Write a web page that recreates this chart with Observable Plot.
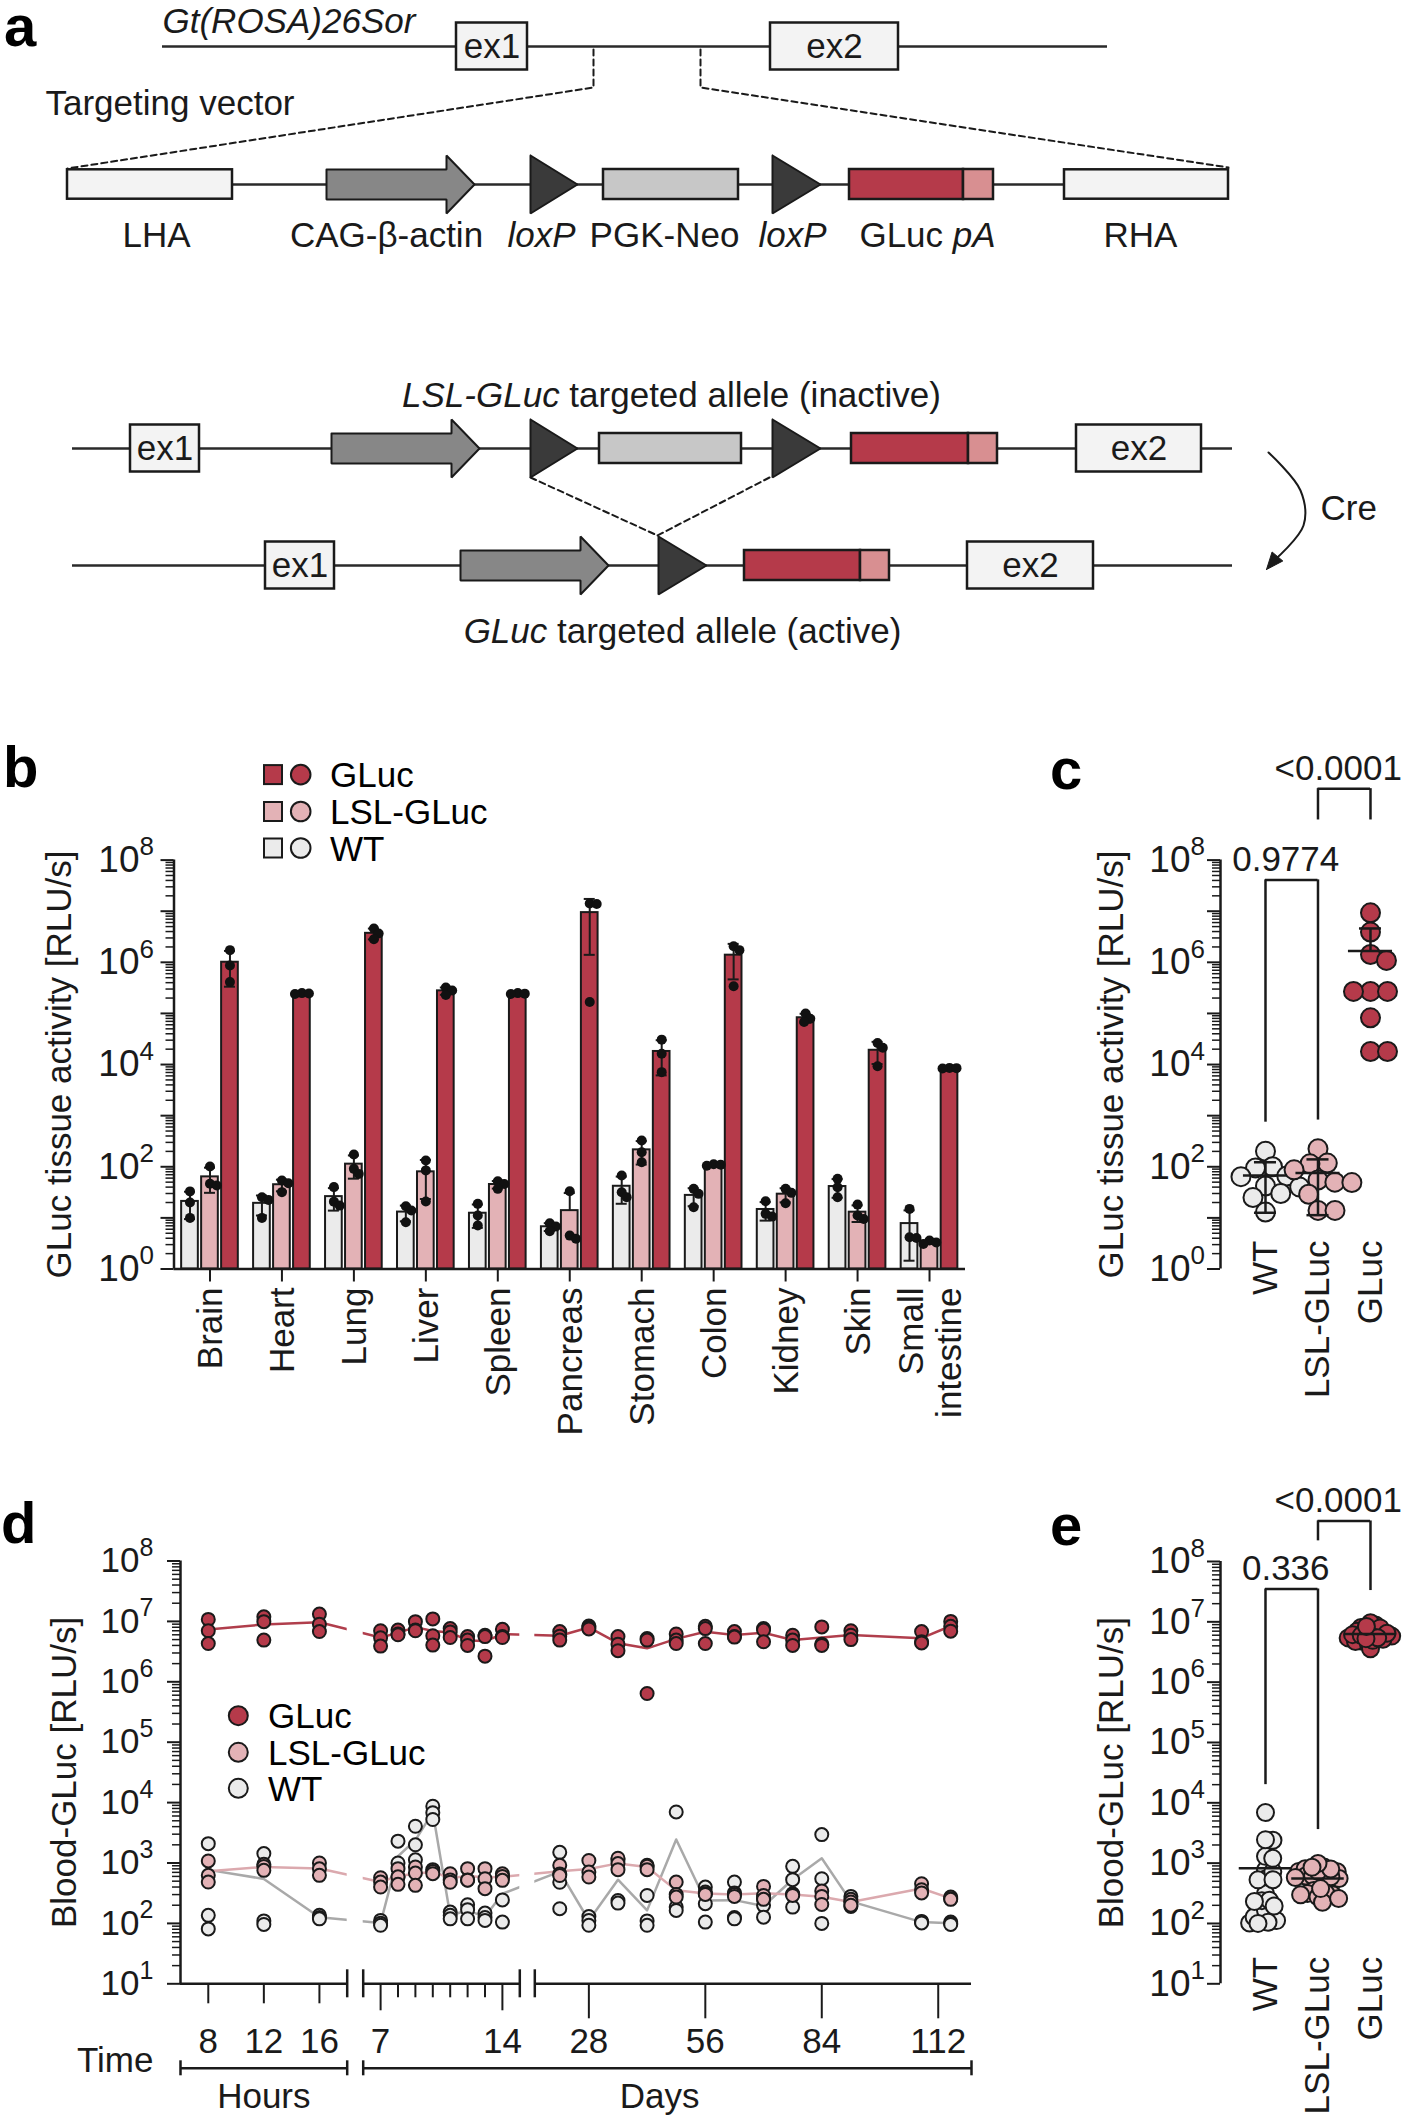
<!DOCTYPE html>
<html>
<head>
<meta charset="utf-8">
<script src="https://cdn.jsdelivr.net/npm/d3@7"></script>
<script src="https://cdn.jsdelivr.net/npm/@observablehq/plot@0.6"></script>
<style>
  html, body { margin: 0; padding: 0; background: #fff; }
  #fig { position: relative; width: 1408px; height: 2116px; overflow: hidden; background: #fff; }
  #fig > svg { position: absolute; }
</style>
</head>
<body>
<div id="fig"></div>
<script>
// ======================= DATA =======================
// Panel a : construct schematic (positions along each drawn row, figure px)
const schemRows = [
  {row: "locus",    y: 46,  x1: 162, x2: 1107},
  {row: "vector",   y: 184, x1: 67,  x2: 1228},
  {row: "inactive", y: 448, x1: 72,  x2: 1232},
  {row: "active",   y: 565, x1: 72,  x2: 1232}
];
const schemParts = [
  {row: "locus", kind: "exon", x1: 456, x2: 527, label: "ex1"},
  {row: "locus", kind: "exon", x1: 770, x2: 898, label: "ex2"},
  {row: "vector", kind: "arm", x1: 67, x2: 232},
  {row: "vector", kind: "promoter", x1: 326, x2: 474},
  {row: "vector", kind: "loxP", x1: 530, x2: 577},
  {row: "vector", kind: "neo", x1: 603, x2: 738},
  {row: "vector", kind: "loxP", x1: 772, x2: 820},
  {row: "vector", kind: "gluc", x1: 849, x2: 963},
  {row: "vector", kind: "pA", x1: 963, x2: 993},
  {row: "vector", kind: "arm", x1: 1064, x2: 1228},
  {row: "inactive", kind: "exon", x1: 130, x2: 199, label: "ex1"},
  {row: "inactive", kind: "promoter", x1: 331, x2: 479},
  {row: "inactive", kind: "loxP", x1: 530, x2: 577},
  {row: "inactive", kind: "neo", x1: 599, x2: 741},
  {row: "inactive", kind: "loxP", x1: 772, x2: 820},
  {row: "inactive", kind: "gluc", x1: 851, x2: 968},
  {row: "inactive", kind: "pA", x1: 968, x2: 997},
  {row: "inactive", kind: "exon", x1: 1076, x2: 1201, label: "ex2"},
  {row: "active", kind: "exon", x1: 265, x2: 334, label: "ex1"},
  {row: "active", kind: "promoter", x1: 460, x2: 608},
  {row: "active", kind: "loxP", x1: 658, x2: 706},
  {row: "active", kind: "gluc", x1: 744, x2: 860},
  {row: "active", kind: "pA", x1: 860, x2: 889},
  {row: "active", kind: "exon", x1: 967, x2: 1093, label: "ex2"}
];
const schemDashes = [
  [[593, 49], [593, 87], [67, 168]],
  [[700, 49], [700, 87], [1228, 167]],
  [[530, 477], [657, 535]],
  [[769, 477], [657, 535]]
];
const creArc = [[1268, 452], [1300, 490], [1303, 525], [1266, 569]];
const schemLabels = [
  {x: 162, y: 32, anchor: "start", parts: [["Gt(ROSA)26Sor", true]]},
  {x: 45, y: 114, anchor: "start", parts: [["Targeting vector", false]]},
  {x: 156, y: 246, parts: [["LHA", false]]},
  {x: 386, y: 246, parts: [["CAG-β-actin", false]]},
  {x: 541, y: 246, parts: [["loxP", true]]},
  {x: 664, y: 246, parts: [["PGK-Neo", false]]},
  {x: 792, y: 246, parts: [["loxP", true]]},
  {x: 927, y: 246, parts: [["GLuc", false], ["pA", true]]},
  {x: 1140, y: 246, parts: [["RHA", false]]},
  {x: 671, y: 406, parts: [["LSL-GLuc", true], ["targeted allele (inactive)", false]]},
  {x: 682, y: 642, parts: [["GLuc", true], ["targeted allele (active)", false]]},
  {x: 1320, y: 519, anchor: "start", parts: [["Cre", false]]}
];

// Panel b : GLuc tissue activity (RLU/s), three mice per organ and genotype
const organs = ["Brain", "Heart", "Lung", "Liver", "Spleen", "Pancreas", "Stomach", "Colon", "Kidney", "Skin", "Small\nintestine"];
const genotypes = ["WT", "LSL-GLuc", "GLuc"];
const tissueWT = [[33, 20, 10], [25.3, 22.5, 10], [40, 20.8, 17.4], [16.9, 13.9, 8.2], [18.8, 11.1, 7.1], [7.85, 6.76, 5.5],
  [67.5, 31.8, 25.4], [37, 29.5, 16.1], [21.2, 12, 10.6], [58, 39.8, 25.4], [15, 4.17, 4.05]];
const tissueLSL = [[101, 46.4, 43], [54, 47.7, 31.9], [174, 91, 72.6], [133, 85, 20.9], [52, 46, 37], [33.2, 4.5, 3.9],
  [327, 193, 123], [112, 110, 105], [37, 30.9, 19.4], [18.2, 11.1, 9.5], [3.6, 3.3, 3.1]];
const tissueGLuc = [[1.73e6, 8.7e5, 4.1e5], [2.5e5, 2.45e5, 2.4e5], [4.6e6, 3.65e6, 2.83e6], [3.2e5, 2.8e5, 2.3e5], [2.5e5, 2.44e5, 2.4e5],
  [1.42e7, 1.38e7, 1.68e5], [3.07e4, 1.63e4, 7.1e3], [2.07e6, 1.73e6, 3.4e5], [1.0e5, 7.9e4, 6.8e4], [2.64e4, 2.14e4, 9.3e3], [8.6e3, 8.5e3, 8.4e3]];

// Panel c : pooled tissue activity
const pooledWT = [201, 100, 95, 66, 64, 42, 40, 30, 25, 13];
const pooledLSL = [224, 118, 114, 87, 55, 50, 49, 29, 14, 14];
const pooledGLuc = [9.3e6, 3.9e6, 1.42e6, 1.09e6, 2.7e5, 2.7e5, 2.7e5, 8.2e4, 1.8e4, 1.8e4];
const cBrackets = [
  {a: 0, b: 1, p: "0.9774", top: 4.1e7, endA: 745, endB: 820},
  {a: 1, b: 2, p: "<0.0001", top: 2.5e9, endA: 6.1e8, endB: 6.1e8}
];

// Panel d : blood GLuc time course (RLU/s), three mice per time point
const hourTimes = [8, 12, 16];
const dayTimes = [7, 8, 9, 10, 11, 12, 13, 14, 21, 28, 35, 42, 49, 56, 63, 70, 77, 84, 91, 108, 115];
const bloodGLuc = [
  [1.08e7, 7.0e6, 4.3e6], [1.19e7, 9.9e6, 4.9e6], [1.32e7, 9.0e6, 6.8e6],
  [7.0e6, 5.35e6, 3.9e6], [7.2e6, 6.2e6, 6.0e6], [9.9e6, 7.2e6, 7.0e6], [1.1e7, 5.8e6, 4.05e6],
  [7.6e6, 6.7e6, 5.4e6], [5.6e6, 4.9e6, 4.0e6], [5.9e6, 5.6e6, 2.66e6], [7.4e6, 5.6e6, 5.4e6],
  [6.8e6, 5.7e6, 4.9e6], [8.4e6, 7.9e6, 7.5e6], [5.6e6, 4.2e6, 3.27e6], [5.2e6, 4.9e6, 6.4e5],
  [6.2e6, 4.9e6, 4.3e6], [8.3e6, 7.6e6, 4.3e6], [6.8e6, 5.6e6, 5.5e6], [7.6e6, 7.2e6, 4.6e6],
  [5.9e6, 4.9e6, 4.0e6], [8.1e6, 4.2e6, 4.0e6], [7.0e6, 5.9e6, 5.0e6], [6.8e6, 4.6e6, 4.4e6], [1.0e7, 8.3e6, 6.9e6]
];
const bloodLSL = [
  [1080, 625, 484], [950, 875, 755], [1000, 800, 625],
  [571, 484, 400], [806, 590, 443], [860, 682, 427], [776, 720, 665],
  [665, 525, 480], [806, 525, 520], [806, 550, 376], [665, 600, 516],
  [915, 660, 620], [1100, 708, 586], [1200, 980, 776], [915, 880, 776],
  [484, 300, 273], [330, 310, 302], [320, 300, 280], [410, 290, 250],
  [309, 300, 290], [344, 280, 206], [250, 226, 200], [454, 361, 320], [273, 257, 250]
];
const bloodWT = [
  [2090, 136, 81], [1430, 110, 96], [136, 125, 119],
  [112, 101, 93], [2300, 1000, 586], [4060, 2000, 1130], [8700, 6800, 5250],
  [154, 136, 119], [204, 169, 119], [148, 125, 112], [580, 245, 105],
  [1500, 480, 175], [130, 112, 93], [1130, 240, 217], [290, 110, 93],
  [7000, 186, 164], [400, 212, 105], [484, 125, 119], [257, 199, 127],
  [881, 530, 186], [2950, 550, 100], [280, 226, 190], [108, 105, 102], [105, 100, 96]
];
const hourTicks = [8, 12, 16];
const dayTicksLabeled = [7, 14, 28, 56, 84, 112];
const dayTicksMinor = [8, 9, 10, 11, 12, 13];

// Panel e : per time-point means of panel d
const eBrackets = [
  {a: 0, b: 1, p: "0.336", top: 3.5e7, endA: 2.0e4, endB: 3.6e3},
  {a: 1, b: 2, p: "<0.0001", top: 4.7e8, endA: 2.2e8, endB: 3.3e7}
];

// ======================= STYLE =======================
const FONT = '"Liberation Sans", Arial, Helvetica, sans-serif';
const INK = "#1a1a1a";
const FS = 35;
const RED = "#b53a4a", PINK = "#e3b2b6", GREY = "#ebebeb";
const genoFill = {"WT": GREY, "LSL-GLuc": PINK, "GLuc": RED};
const genoLine = {"WT": "#a9a9a9", "LSL-GLuc": "#dba9ae", "GLuc": "#b03e4c"};
const STYLE = {fontFamily: FONT, fontSize: "35px", background: "transparent", overflow: "visible", color: INK};
const fig = document.getElementById("fig");
function place(el, left, top) { el.style.position = "absolute"; el.style.left = left + "px"; el.style.top = top + "px"; fig.appendChild(el); }

const ctx = document.createElement("canvas").getContext("2d");
function tw(t, size, it) { ctx.font = `${it ? "italic " : ""}${size}px "Liberation Sans"`; return ctx.measureText(t).width; }

// beeswarm offsets (px) for dots on a log axis
function swarm(vals, ppd, dist) {
  const items = vals.map((v, k) => ({k, y: -Math.log10(v) * ppd})).sort((a, b) => a.y - b.y);
  const placed = [], out = new Array(vals.length).fill(0);
  for (const it of items) {
    const near = placed.filter(p => Math.abs(p.y - it.y) < dist);
    const cands = [0];
    for (const p of near) { const dx = Math.sqrt(dist * dist - (p.y - it.y) ** 2); cands.push(p.x + dx + 0.01, p.x - dx - 0.01); }
    cands.sort((a, b) => Math.abs(a) - Math.abs(b) || b - a);
    const x = cands.find(c => near.every(p => (p.x - c) ** 2 + (p.y - it.y) ** 2 >= dist * dist - 0.5)) ?? 0;
    placed.push({x, y: it.y}); out[it.k] = x;
  }
  return out;
}

function logAxis(xMin, lo, hi, labelDx, labelEvery = 1, fs = 37, es = 26) {
  const majors = d3.range(lo, hi + 1).map(e => 10 ** e);
  const labeled = d3.range(lo, hi + 1).filter(e => (e - lo) % labelEvery === 0).map(e => 10 ** e);
  const minors = [];
  for (let e = lo; e < hi; e++) for (let k = 2; k <= 9; k++) minors.push(k * 10 ** e);
  return [
    Plot.ruleX([xMin], {x: d => d, y1: 10 ** lo, y2: 10 ** hi, stroke: INK, strokeWidth: 2.5}),
    Plot.ruleY(majors, {y: d => d, x1: xMin, x2: xMin, insetLeft: -13, stroke: INK, strokeWidth: 2}),
    Plot.ruleY(minors, {y: d => d, x1: xMin, x2: xMin, insetLeft: -8, stroke: INK, strokeWidth: 1.5}),
    Plot.text(labeled, {x: xMin, y: d => d, text: () => "10", textAnchor: "end", dx: labelDx, fontSize: fs, lineAnchor: "middle"}),
    Plot.text(labeled, {x: xMin, y: d => d, text: d => String(Math.round(Math.log10(d))), textAnchor: "start", dx: labelDx, dy: -13, fontSize: es, lineAnchor: "middle"})
  ];
}

// ======================= PANEL A =======================
{
  const kind = {
    exon: {fill: "#f3f3f3", h: 23.5}, arm: {fill: "#f3f3f3", h: 14.7}, neo: {fill: "#c7c7c7", h: 15},
    gluc: {fill: RED, h: 15}, pA: {fill: "#d88f91", h: 15},
    promoter: {fill: "#878787", h: 15, head: 29, headLen: 28}, loxP: {fill: "#3a3a3a", h: 29}
  };
  const rowY = Object.fromEntries(schemRows.map(r => [r.row, r.y]));
  const boxes = schemParts.filter(p => p.kind !== "promoter" && p.kind !== "loxP")
    .map(p => ({...p, y1: rowY[p.row] - kind[p.kind].h, y2: rowY[p.row] + kind[p.kind].h, fill: kind[p.kind].fill, cy: rowY[p.row]}));
  const polys = schemParts.filter(p => p.kind === "promoter" || p.kind === "loxP").map(p => {
    const y = rowY[p.row], s = kind[p.kind];
    let pts;
    if (p.kind === "loxP") pts = [[p.x1, y - s.h], [p.x2, y], [p.x1, y + s.h], [p.x1, y - s.h]];
    else { const be = p.x2 - s.headLen; pts = [[p.x1, y - s.h], [be, y - s.h], [be, y - s.head], [p.x2, y], [be, y + s.head], [be, y + s.h], [p.x1, y + s.h], [p.x1, y - s.h]]; }
    return {fill: s.fill, pts};
  });
  const pieces = [];
  const gap = tw(" ", FS, false);
  for (const L of schemLabels) {
    const w = L.parts.map(([t, it]) => tw(t, FS, it));
    const total = d3.sum(w) + gap * (L.parts.length - 1);
    let x = L.anchor === "start" ? L.x : L.x - total / 2;
    L.parts.forEach(([t, it], k) => { pieces.push({x, y: L.y, text: t, italic: it}); x += w[k] + gap; });
  }
  const tip = creArc[creArc.length - 1], prev = creArc[creArc.length - 2];
  const len = Math.hypot(tip[0] - prev[0], tip[1] - prev[1]);
  const ux = (tip[0] - prev[0]) / len, uy = (tip[1] - prev[1]) / len;
  const hl = 17, hw = 7;
  const head = [[tip[0], tip[1]], [tip[0] - ux * hl - uy * hw, tip[1] - uy * hl + ux * hw], [tip[0] - ux * hl + uy * hw, tip[1] - uy * hl - ux * hw], [tip[0], tip[1]]];
  const arcPts = creArc.slice(0, -1).concat([[tip[0] - ux * 12, tip[1] - uy * 12]]);

  const A = Plot.plot({
    width: 1408, height: 680, margin: 0,
    x: {domain: [0, 1408], range: [0, 1408], axis: null},
    y: {domain: [0, 680], range: [0, 680], axis: null},
    color: {type: "identity"},
    style: STYLE,
    marks: [
      Plot.ruleY(schemRows, {y: "y", x1: "x1", x2: "x2", stroke: "#2a2a2a", strokeWidth: 2.5}),
      ...schemDashes.map(pts => Plot.line(pts, {x: d => d[0], y: d => d[1], stroke: INK, strokeWidth: 2, strokeDasharray: "6,4"})),
      Plot.rect(boxes, {x1: "x1", x2: "x2", y1: "y1", y2: "y2", fill: "fill", stroke: INK, strokeWidth: 2.5}),
      ...polys.map(p => Plot.line(p.pts, {x: d => d[0], y: d => d[1], fill: p.fill, stroke: INK, strokeWidth: 2, strokeLinejoin: "miter"})),
      Plot.line(arcPts, {x: d => d[0], y: d => d[1], curve: "catmull-rom", stroke: INK, strokeWidth: 2}),
      Plot.line(head, {x: d => d[0], y: d => d[1], fill: INK, stroke: INK, strokeWidth: 1}),
      Plot.text(boxes.filter(d => d.label), {x: d => (d.x1 + d.x2) / 2, y: "cy", text: "label", fontSize: FS, lineAnchor: "middle"}),
      Plot.text(pieces.filter(d => !d.italic), {x: "x", y: "y", text: "text", textAnchor: "start", lineAnchor: "bottom", fontSize: FS}),
      Plot.text(pieces.filter(d => d.italic), {x: "x", y: "y", text: "text", textAnchor: "start", lineAnchor: "bottom", fontSize: FS, fontStyle: "italic"})
    ]
  });
  place(A, 0, 0);
}

// ======================= PANEL B =======================
{
  const tissueBy = {"WT": tissueWT, "LSL-GLuc": tissueLSL, "GLuc": tissueGLuc};
  const STEP = 20 / 72, HALF = 8.35 / 72, CAP = 5.5 / 72;
  const stats = [], caps = [], dots = [];
  organs.forEach((o, i) => genotypes.forEach((g, j) => {
    const vals = tissueBy[g][i];
    const xc = i + (j - 1) * STEP;
    const mean = d3.mean(vals), sd = d3.deviation(vals);
    const lo = mean - sd > 1 ? mean - sd : null;
    stats.push({g, xc, mean, hi: mean + sd, lo: lo ?? mean});
    caps.push({xc, y: mean + sd});
    if (lo) caps.push({xc, y: lo});
    const off = swarm(vals, 51.1, 7);
    vals.forEach((v, k) => dots.push({x: xc + off[k] / 72, v}));
  }));
  const B = Plot.plot({
    width: 1000, height: 720,
    marginLeft: 173.5, marginRight: 35, marginTop: 119.6, marginBottom: 191.5,
    x: {type: "linear", domain: [-0.5, 10.5], axis: null},
    y: {type: "log", domain: [1, 1e8], axis: null},
    color: {type: "identity"},
    style: STYLE,
    marks: [
      Plot.rect(stats, {x1: d => d.xc - HALF, x2: d => d.xc + HALF, y1: 1, y2: "mean", fill: d => genoFill[d.g], stroke: INK, strokeWidth: 2}),
      Plot.ruleX(stats, {x: "xc", y1: "lo", y2: "hi", stroke: INK, strokeWidth: 2}),
      Plot.ruleY(caps, {y: "y", x1: d => d.xc - CAP, x2: d => d.xc + CAP, stroke: INK, strokeWidth: 2}),
      Plot.dot(dots, {x: "x", y: "v", r: 5, fill: "#111"}),
      Plot.ruleY([1], {y: d => d, stroke: INK, strokeWidth: 2.5}),
      Plot.ruleX(d3.range(organs.length), {x: d => d, y1: 1, y2: 1, insetBottom: -13, stroke: INK, strokeWidth: 2}),
      Plot.text(organs, {x: (d, i) => i, y: 1, text: d => d, rotate: -90, textAnchor: "end", dy: 18.5, fontSize: FS, lineHeight: 1.08}),
      ...logAxis(-0.5, 0, 8, -34.5, 2),
      Plot.text(["GLuc tissue activity [RLU/s]"], {frameAnchor: "left", textAnchor: "middle", text: d => d, rotate: -90, dx: -114.5, fontSize: FS})
    ]
  });
  place(B, 0, 740);
}

// ======================= PANEL C / E helper =======================
function dotPanel({valsBy, ppd, dist, r, meanHalf, showSD, brackets, yDomain, top, height, mT, mB, labelDy, labelEvery, title}) {
  const dots = [], stats = [], caps = [];
  genotypes.forEach((g, j) => {
    const vals = valsBy[g];
    const off = swarm(vals, ppd, dist[g]);
    vals.forEach((v, k) => dots.push({g, x: j + off[k] / 52.5, v}));
    const mean = d3.mean(vals), sd = d3.deviation(vals);
    const lo = mean - sd > yDomain[0] ? mean - sd : null;
    stats.push({j, mean, hi: mean + sd, lo: lo ?? mean});
    caps.push({j, y: mean + sd});
    if (lo) caps.push({j, y: lo});
  });
  const lo = Math.round(Math.log10(yDomain[0])), hi = Math.round(Math.log10(yDomain[1]));
  const P = Plot.plot({
    width: 408, height,
    marginLeft: 220, marginRight: 0, marginTop: mT, marginBottom: mB,
    x: {type: "linear", domain: [-0.857, 2.724], axis: null},
    y: {type: "log", domain: yDomain, axis: null},
    color: {type: "identity"},
    style: STYLE,
    marks: [
      Plot.ruleY(brackets, {y: "top", x1: "a", x2: "b", stroke: INK, strokeWidth: 2.5}),
      Plot.ruleX(brackets, {x: "a", y1: "endA", y2: "top", stroke: INK, strokeWidth: 2.5}),
      Plot.ruleX(brackets, {x: "b", y1: "endB", y2: "top", stroke: INK, strokeWidth: 2.5}),
      Plot.text(brackets, {x: d => (d.a + d.b) / 2, y: "top", text: "p", dx: -6, dy: -9, lineAnchor: "bottom", fontSize: FS}),
      Plot.dot(dots, {x: "x", y: "v", r, fill: d => genoFill[d.g], stroke: INK, strokeWidth: 2}),
      Plot.ruleY(stats, {y: "mean", x1: d => d.j - meanHalf, x2: d => d.j + meanHalf, stroke: INK, strokeWidth: 2.5}),
      ...(showSD ? [
        Plot.ruleX(stats, {x: "j", y1: "lo", y2: "hi", stroke: INK, strokeWidth: 2.5}),
        Plot.ruleY(caps, {y: "y", x1: d => d.j - 0.21, x2: d => d.j + 0.21, stroke: INK, strokeWidth: 2.5})
      ] : []),
      Plot.text(genotypes, {x: (d, i) => i, y: yDomain[0], text: d => d, rotate: -90, textAnchor: "end", dy: labelDy, fontSize: FS}),
      ...logAxis(-0.857, lo, hi, -30, labelEvery),
      Plot.text([title], {frameAnchor: "left", textAnchor: "middle", text: d => d, rotate: -90, dx: -109, fontSize: FS})
    ]
  });
  place(P, 1000, top);
}
dotPanel({
  valsBy: {"WT": pooledWT, "LSL-GLuc": pooledLSL, "GLuc": pooledGLuc},
  ppd: 51.1, dist: {"WT": 17, "LSL-GLuc": 17, "GLuc": 17}, r: 9.5, meanHalf: 0.42, showSD: true, brackets: cBrackets,
  yDomain: [1, 1e8], top: 740, height: 720, mT: 119.6, mB: 191.5, labelDy: -28.5, labelEvery: 2,
  title: "GLuc tissue activity [RLU/s]"
});

// ======================= PANEL D =======================
const timeHours = [...hourTimes, ...dayTimes.map(d => d * 24)];
const bloodBy = {"WT": bloodWT, "LSL-GLuc": bloodLSL, "GLuc": bloodGLuc};
{
  const dots = [], means = [];
  genotypes.forEach(g => bloodBy[g].forEach((vals, ti) => {
    vals.forEach(v => dots.push({g, t: timeHours[ti], v}));
    means.push({g, t: timeHours[ti], v: d3.mean(vals)});
  }));
  const segs = [{x1: 6, x2: 18}, {x1: 144, x2: 360}, {x1: 360.01, x2: 2880}];
  const gaps = [{x1: 18, x2: 144}, {x1: 360, x2: 360.01}];
  const breaks = [18, 144, 360, 360.01];
  const tickLabels = [...hourTicks.map(h => ({t: h, label: String(h)})), ...dayTicksLabeled.map(d => ({t: d * 24, label: String(d)}))];
  const tickSets = [
    {vals: hourTicks, len: 20},
    {vals: [7 * 24, 14 * 24], len: 27},
    {vals: dayTicksMinor.map(d => d * 24), len: 14},
    {vals: [28, 56, 84, 112].map(d => d * 24), len: 35}
  ];
  const D = Plot.plot({
    width: 1000, height: 616,
    marginLeft: 180, marginRight: 29, marginTop: 60.5, marginBottom: 132.7,
    x: {type: "linear", domain: [6, 18, 144, 360, 360.01, 2880], range: [180, 346.7, 362.7, 519.3, 534.3, 971], axis: null},
    y: {type: "log", domain: [10, 1e8], axis: null},
    color: {type: "identity"},
    style: STYLE,
    marks: [
      Plot.line(means, {x: "t", y: "v", z: "g", stroke: d => genoLine[d.g], strokeWidth: 2.5}),
      Plot.rect(gaps, {x1: "x1", x2: "x2", y1: 10, y2: 1e8, fill: "white", insetBottom: 3}),
      Plot.dot(dots.filter(d => d.g === "WT"), {x: "t", y: "v", r: 6.5, fill: GREY, stroke: INK, strokeWidth: 2}),
      Plot.dot(dots.filter(d => d.g === "LSL-GLuc"), {x: "t", y: "v", r: 6.5, fill: PINK, stroke: INK, strokeWidth: 2}),
      Plot.dot(dots.filter(d => d.g === "GLuc"), {x: "t", y: "v", r: 6.5, fill: RED, stroke: INK, strokeWidth: 2}),
      Plot.ruleY(segs, {y: 10, x1: "x1", x2: "x2", stroke: INK, strokeWidth: 2.5}),
      Plot.ruleX(breaks, {x: d => d, y1: 10, y2: 10, insetTop: -14, insetBottom: -14, stroke: INK, strokeWidth: 2.5}),
      ...tickSets.map(s => Plot.ruleX(s.vals, {x: d => d, y1: 10, y2: 10, insetBottom: -s.len, stroke: INK, strokeWidth: 2})),
      Plot.text(tickLabels, {x: "t", y: 10, text: "label", dy: 58, lineAnchor: "middle", fontSize: FS}),
      Plot.text(["Time"], {x: 6, y: 10, text: d => d, textAnchor: "start", dx: -103.5, dy: 88.4, lineAnchor: "bottom", fontSize: FS}),
      Plot.ruleY([{x1: 6, x2: 18}, {x1: 144, x2: 2880}], {y: 10, x1: "x1", x2: "x2", dy: 84.5, stroke: INK, strokeWidth: 2.5}),
      Plot.ruleX([6, 18, 144, 2880], {x: d => d, y1: 10, y2: 10, insetTop: 77, insetBottom: -92, stroke: INK, strokeWidth: 2.5}),
      Plot.text([{t: 12, s: "Hours"}, {t: 1080, s: "Days"}], {x: "t", y: 10, text: "s", dy: 123.7, lineAnchor: "bottom", fontSize: FS}),
      ...logAxis(6, 1, 8, -41, 1, 35, 25),
      Plot.text(["Blood-GLuc [RLU/s]"], {frameAnchor: "left", textAnchor: "middle", text: d => d, rotate: -90, dx: -116, fontSize: FS})
    ]
  });
  place(D, 0, 1500);
}

// ======================= PANEL E =======================
{
  const meansBy = {};
  genotypes.forEach(g => meansBy[g] = bloodBy[g].map(vals => d3.mean(vals)));
  dotPanel({
    valsBy: meansBy, ppd: 60.3, dist: {"WT": 7.5, "LSL-GLuc": 7, "GLuc": 5.5}, r: 8.5, meanHalf: 0.5, showSD: false, brackets: eBrackets,
    yDomain: [10, 1e8], top: 1480, height: 636, mT: 81, mB: 132.7, labelDy: -27, labelEvery: 1,
    title: "Blood-GLuc [RLU/s]"
  });
}

// ======================= OVERLAY: panel letters & legends =======================
{
  const ov = d3.create("svg").attr("width", 1408).attr("height", 2116)
    .style("left", "0px").style("top", "0px").style("pointer-events", "none").style("font-family", FONT);
  const letters = [["a", 4, 46], ["b", 3, 787], ["c", 1050, 789], ["d", 1, 1543], ["e", 1050, 1545]];
  ov.selectAll("text.l").data(letters).join("text").attr("x", d => d[1]).attr("y", d => d[2])
    .attr("font-size", 58).attr("font-weight", "bold").attr("fill", "#000").text(d => d[0]);
  const legB = [["GLuc", 774.6], ["LSL-GLuc", 811.5], ["WT", 848]];
  legB.forEach(([g, cy]) => {
    ov.append("rect").attr("x", 264).attr("y", cy - 9.5).attr("width", 18).attr("height", 19).attr("fill", genoFill[g]).attr("stroke", INK).attr("stroke-width", 2);
    ov.append("circle").attr("cx", 300.7).attr("cy", cy).attr("r", 9.8).attr("fill", genoFill[g]).attr("stroke", INK).attr("stroke-width", 2);
    ov.append("text").attr("x", 330).attr("y", cy + 12.5).attr("font-size", FS).attr("fill", "#000").text(g);
  });
  const legD = [["GLuc", 1715.7], ["LSL-GLuc", 1752.3], ["WT", 1788.3]];
  legD.forEach(([g, cy]) => {
    ov.append("circle").attr("cx", 238.3).attr("cy", cy).attr("r", 9.5).attr("fill", genoFill[g]).attr("stroke", INK).attr("stroke-width", 2);
    ov.append("text").attr("x", 268).attr("y", cy + 12.5).attr("font-size", FS).attr("fill", "#000").text(g);
  });
  place(ov.node(), 0, 0);
}
</script>
</body>
</html>
